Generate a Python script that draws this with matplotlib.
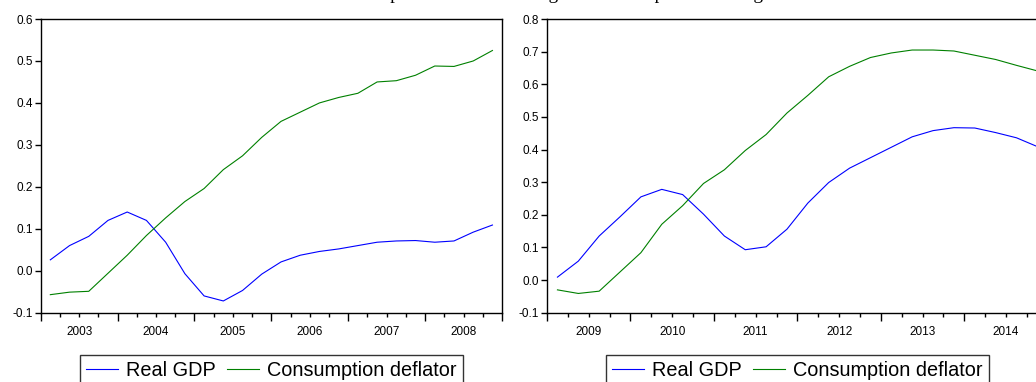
import numpy as np
import matplotlib
matplotlib.use("Agg")
import matplotlib.pyplot as plt
from matplotlib.ticker import FixedLocator, FuncFormatter, FormatStrFormatter

plt.rcParams["font.family"] = ["Liberation Sans", "DejaVu Sans"]
plt.rcParams["axes.unicode_minus"] = False

# quarterly responses, 24 quarters per panel
years_left = [2003, 2004, 2005, 2006, 2007, 2008]
gdp_left = [0.026, 0.060, 0.082, 0.120, 0.140, 0.120, 0.068, -0.007,
            -0.060, -0.072, -0.047, -0.008, 0.021, 0.037, 0.046, 0.052,
            0.060, 0.068, 0.071, 0.072, 0.068, 0.071, 0.092, 0.109]
defl_left = [-0.057, -0.051, -0.049, -0.006, 0.037, 0.084, 0.126, 0.165,
             0.196, 0.241, 0.274, 0.318, 0.356, 0.378, 0.400, 0.413,
             0.423, 0.450, 0.453, 0.466, 0.488, 0.487, 0.500, 0.525]

years_right = [2009, 2010, 2011, 2012, 2013, 2014]
gdp_right = [0.009, 0.058, 0.135, 0.194, 0.255, 0.278, 0.262, 0.202,
             0.135, 0.093, 0.102, 0.156, 0.236, 0.299, 0.343, 0.375,
             0.407, 0.439, 0.458, 0.467, 0.466, 0.452, 0.436, 0.409]
defl_right = [-0.030, -0.041, -0.034, 0.025, 0.084, 0.171, 0.228, 0.296,
              0.338, 0.397, 0.446, 0.512, 0.566, 0.623, 0.655, 0.682,
              0.696, 0.705, 0.705, 0.702, 0.689, 0.676, 0.658, 0.641]

# title sits mostly above the top edge, as in the source image
title = "Cumulative impulse reactions during the two samples of the big crisis"

fig = plt.figure(figsize=(10.36, 3.82), dpi=100)
fig.text(0.524, 1.002, title, ha="center", va="baseline",
         family="Liberation Serif", fontsize=13.7)


def draw_panel(ax, years, gdp, defl, ylim):
    x = np.arange(len(gdp)) + 0.5
    ax.plot(x, gdp, color="#0000ff", lw=0.8, label="Real GDP")
    ax.plot(x, defl, color="#008000", lw=0.8, label="Consumption deflator")
    n = 4 * len(years)
    ax.set_xlim(0, n)
    ax.set_ylim(*ylim)
    ax.xaxis.set_major_locator(FixedLocator(range(0, n + 1, 4)))
    ax.xaxis.set_major_formatter(FuncFormatter(lambda v, p: ""))
    ax.xaxis.set_minor_locator(FixedLocator([i for i in range(n) if i % 4]))
    ax.xaxis.set_minor_formatter(FuncFormatter(
        lambda v, p: str(years[int(round(v)) // 4]) if int(round(v)) % 4 == 2 else ""))
    ax.tick_params(axis="x", which="major", length=6, width=1, direction="out")
    ax.tick_params(axis="x", which="minor", length=3, width=1, direction="out",
                   pad=6.5, labelsize=8.5)
    ax.set_yticks(np.arange(ylim[0], ylim[1] + 0.001, 0.1))
    ax.yaxis.set_major_formatter(FormatStrFormatter("%.1f"))
    ax.tick_params(axis="y", length=4, width=1, direction="out", pad=1.5,
                   labelsize=8.5)
    for s in ax.spines.values():
        s.set_linewidth(1.0)
    leg = ax.legend(loc="upper center", bbox_to_anchor=(0.5, -0.144), ncol=2,
                    fontsize=14.3, frameon=True, fancybox=False, edgecolor="black",
                    borderaxespad=0, handlelength=1.6, handletextpad=0.4,
                    columnspacing=0.6, borderpad=0.3)
    leg.get_frame().set_linewidth(1.0)


ax1 = fig.add_axes([0.0393, 0.1814, 0.4453, 0.7688])
draw_panel(ax1, years_left, gdp_left, defl_left, (-0.1, 0.6))

ax2 = fig.add_axes([0.528, 0.1814, 0.4834, 0.7688])
draw_panel(ax2, years_right, gdp_right, defl_right, (-0.1, 0.8))

fig.savefig("out.png", dpi=100)
